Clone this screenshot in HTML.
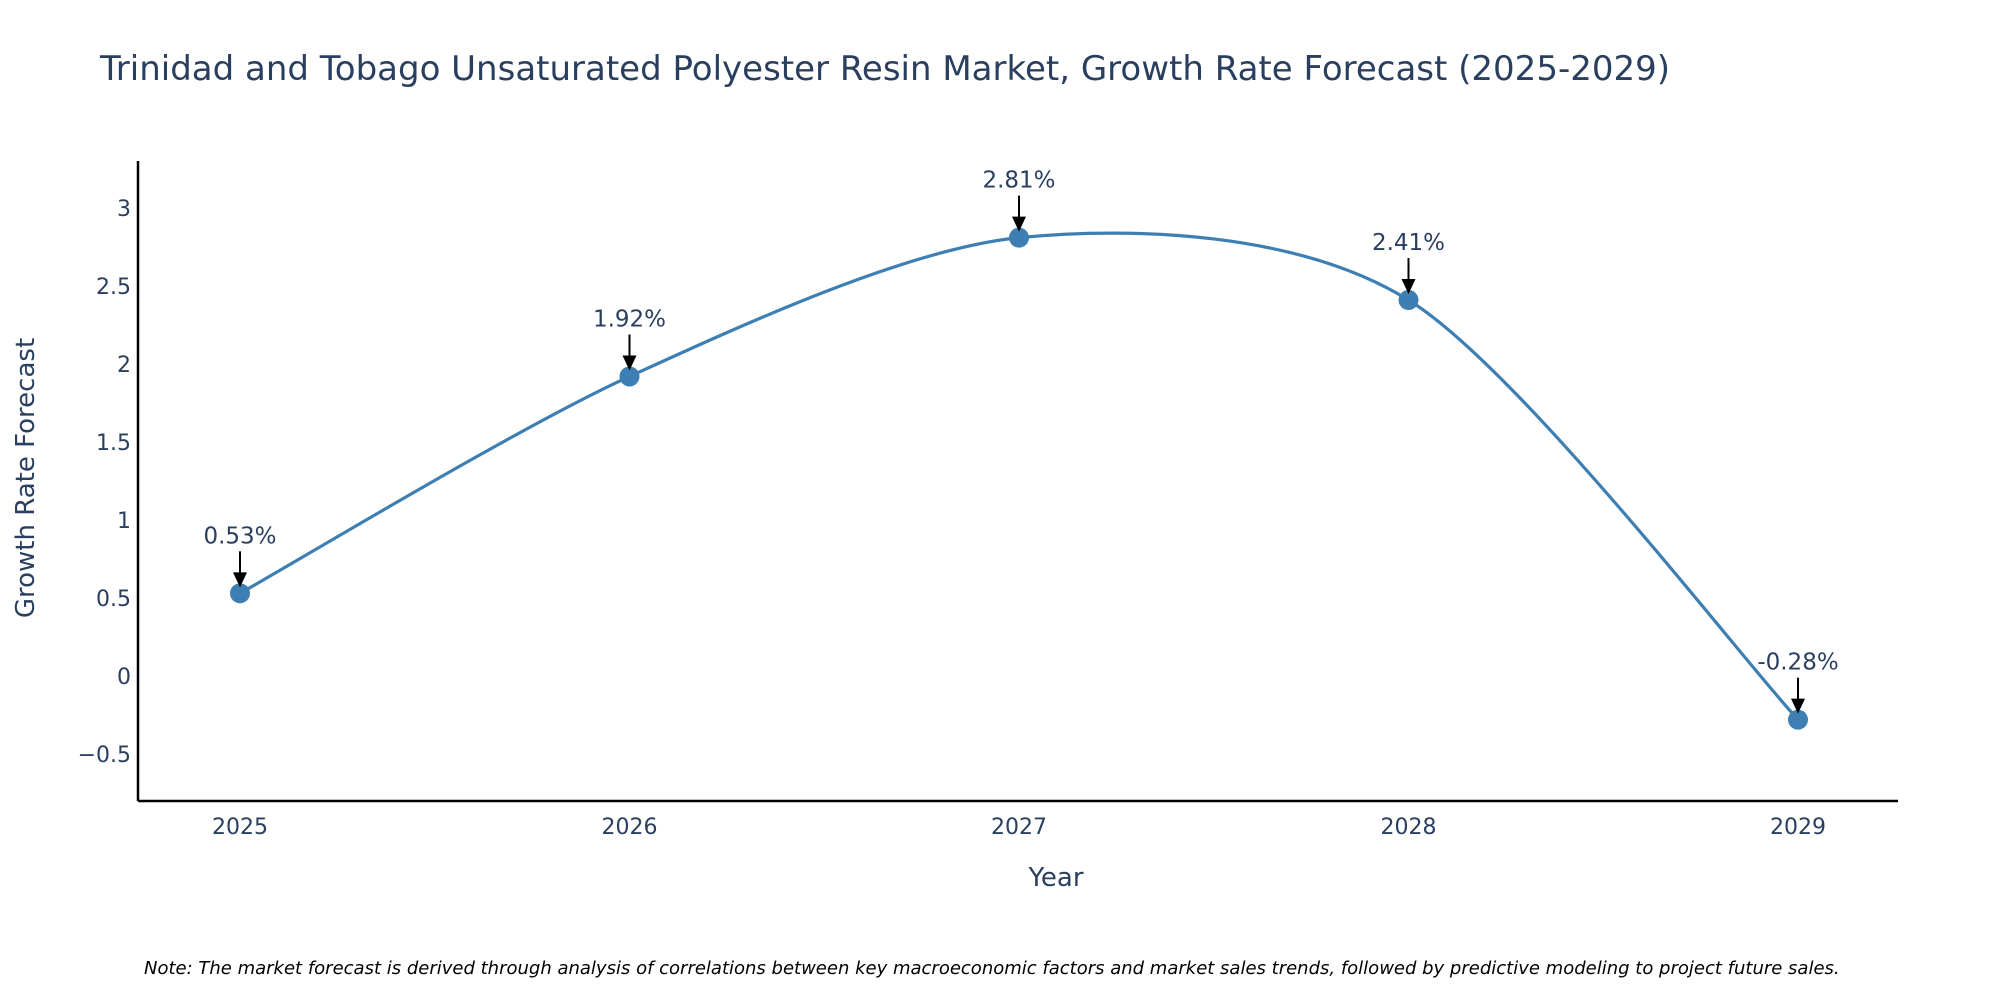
<!DOCTYPE html>
<html><head><meta charset="utf-8"><style>
body{margin:0;background:#fff;}
svg text{font-family:"DejaVu Sans","Liberation Sans",sans-serif;}
</style></head><body>
<svg width="2000" height="1000" xmlns="http://www.w3.org/2000/svg">
<text x="100" y="80" font-size="34" fill="#2a3f5f">Trinidad and Tobago Unsaturated Polyester Resin Market, Growth Rate Forecast (2025-2029)</text>
<g id="plot"></g>
<text x="1056" y="886" font-size="26" fill="#2a3f5f" text-anchor="middle">Year</text>
<text transform="translate(34,478) rotate(-90)" font-size="26" fill="#2a3f5f" text-anchor="middle">Growth Rate Forecast</text>
<text x="144" y="974" font-size="18" font-style="italic" fill="#000">Note: The market forecast is derived through analysis of correlations between key macroeconomic factors and market sales trends, followed by predictive modeling to project future sales.</text>
</svg>
<script>
const years=["2025","2026","2027","2028","2029"];
const values=[0.53,1.92,2.81,2.41,-0.28];
const labels=["0.53%","1.92%","2.81%","2.41%","-0.28%"];
const yTicks=[-0.5,0,0.5,1,1.5,2,2.5,3];
const yTickLabels=["\u22120.5","0","0.5","1","1.5","2","2.5","3"];
const NS="http://www.w3.org/2000/svg";
const g=document.getElementById('plot');
const X0=138,X1=1898,Y0=801,Y1=161;
const xs=i=>240+i*389.5;
const ys=v=>676-v*156;
function mk(t,a,p){const e=document.createElementNS(NS,t);for(const k in a)e.setAttribute(k,a[k]);(p||g).appendChild(e);return e;}
let ax=mk('line',{x1:X0,y1:Y0,x2:X1,y2:Y0,stroke:'#000','stroke-width':2.5});


let ay=mk('line',{x1:X0,y1:Y0,x2:X0,y2:Y1,stroke:'#000','stroke-width':2.5});


yTicks.forEach((v,i)=>{const t=mk('text',{x:X0-7,y:ys(v)+8,'font-size':22,fill:'#2a3f5f','text-anchor':'end'});t.textContent=yTickLabels[i];

});
years.forEach((y,i)=>{const t=mk('text',{x:xs(i),y:834,'font-size':22,fill:'#2a3f5f','text-anchor':'middle'});t.textContent=y;

});
const pts=values.map((v,i)=>[xs(i),ys(v)]);
let d='M'+pts[0][0]+','+pts[0][1];
for(let i=0;i<pts.length-1;i++){const p0=pts[Math.max(i-1,0)],p1=pts[i],p2=pts[i+1],p3=pts[Math.min(i+2,pts.length-1)];const k=1/7;
d+=` C${p1[0]+(p2[0]-p0[0])*k},${p1[1]+(p2[1]-p0[1])*k} ${p2[0]-(p3[0]-p1[0])*k},${p2[1]-(p3[1]-p1[1])*k} ${p2[0]},${p2[1]}`;}
const ln=mk('path',{d:d,fill:'none',stroke:'#3d7fb3','stroke-width':3.2});


pts.forEach((p,i)=>{const c=mk('circle',{cx:p[0],cy:p[1],r:10,fill:'#3d7fb3'});


const a=mk('line',{x1:p[0],y1:p[1]-42,x2:p[0],y2:p[1]-18,stroke:'#000','stroke-width':2});


const h=mk('polygon',{points:`${p[0]-7},${p[1]-21} ${p[0]+7},${p[1]-21} ${p[0]},${p[1]-6}`,fill:'#000'});


const t=mk('text',{x:p[0],y:p[1]-50,'font-size':23,fill:'#2a3f5f','text-anchor':'middle'});t.textContent=labels[i];

});
</script>
</body></html>
